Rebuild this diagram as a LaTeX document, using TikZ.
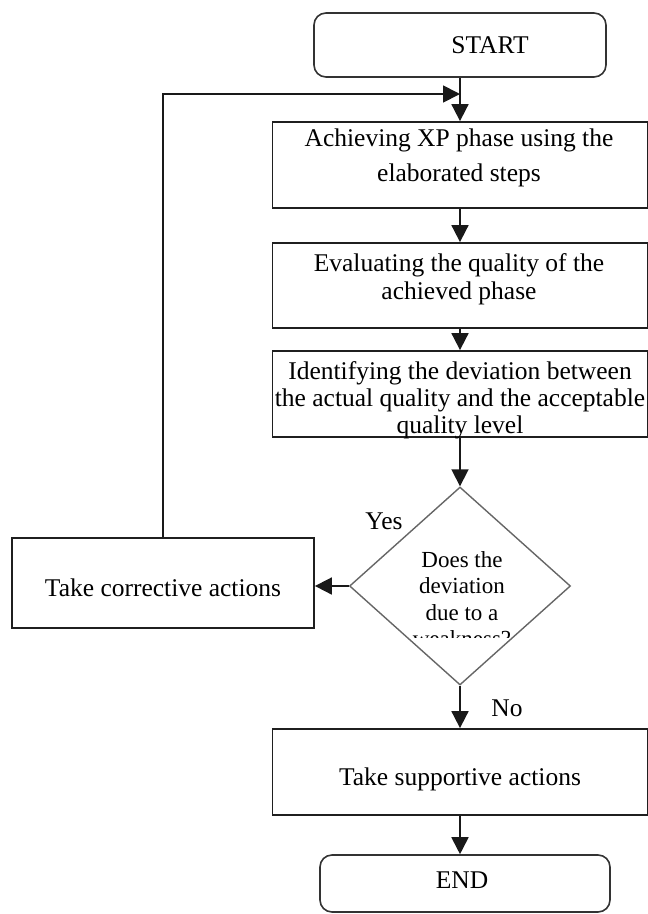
\documentclass[tikz,border=0pt]{standalone}
\usepackage{fontspec}
\setmainfont{Liberation Serif}
\usetikzlibrary{shapes.geometric,arrows.meta}
\begin{document}
\begin{tikzpicture}[x=1pt,y=-1pt,
  boxst/.style={draw=black!88, line width=1.8pt, rectangle, inner sep=0pt, minimum width=375pt},
  rbox/.style={draw=black!80, line width=1.6pt, rectangle, rounded corners=12pt, inner sep=0pt},
  decst/.style={draw=black!60, line width=1.4pt, diamond, inner sep=0pt, minimum width=221pt, minimum height=198pt},
  txt/.style={inner sep=0pt, align=center, font=\fontsize{25.5}{28}\selectfont},
  dtxt/.style={inner sep=0pt, align=center, font=\fontsize{23}{26.5}\selectfont},
  arr/.style={draw=black!90, line width=1.8pt, -{Triangle[length=17pt,width=17pt]}}
]
\useasboundingbox (0,0) rectangle (648,914);

% nodes
\node[rbox, minimum width=292pt, minimum height=64pt] (start) at (460,45) {};
\node[txt] (starttxt) at (490,45) {START};

\node[boxst, minimum height=86pt] (b1) at (460,165) {};
\node[txt, font=\fontsize{25.5}{35}\selectfont] (b1txt) at (459,158) {Achieving XP phase using the\\elaborated steps};

\node[boxst, minimum height=85pt] (b2) at (460,285.5) {};
\node[txt] (b2txt) at (459,279) {Evaluating the quality of the\\achieved phase};

\node[boxst, minimum height=86pt] (b3) at (460,394) {};
\node[txt, font=\fontsize{25.5}{27}\selectfont] (b3txt) at (460,400) {Identifying the deviation between\\the actual quality and the acceptable\\quality level};

\node[decst] (dec) at (460,586) {};
\begin{scope}
  \clip (380,540) rectangle (545,637);
  \node[dtxt] (dectxt) at (462,599) {Does the\\deviation\\due to a\\weakness?};
\end{scope}

\node[boxst, minimum width=302pt, minimum height=90pt] (corr) at (163,583) {};
\node[txt] (corrtxt) at (163,588) {Take corrective actions};

\node[boxst, minimum height=86pt] (supp) at (460,772) {};
\node[txt] (supptxt) at (460,779) {Take supportive actions};

\node[rbox, minimum width=290pt, minimum height=57pt] (end) at (465,883.5) {};
\node[txt] (endtxt) at (462,880) {END};

\node[txt] (yes) at (384,521) {Yes};
\node[txt] (no) at (507,708) {No};

\coordinate (fb) at (460,94);

% connectors
\draw[arr] (start.south) -- (b1.north);
\draw[arr] (b1.south) -- (b2.north);
\draw[arr] (b2.south) -- (b3.north);
\draw[arr] (b3.south) -- (dec.north);
\draw[arr] (dec.west) -- (dec.west -| corr.east);
\draw[arr] (dec.south) -- (supp.north);
\draw[arr] (supp.south) -- (supp.south |- end.north);
\draw[arr] (corr.north) |- (fb);
\end{tikzpicture}
\end{document}
